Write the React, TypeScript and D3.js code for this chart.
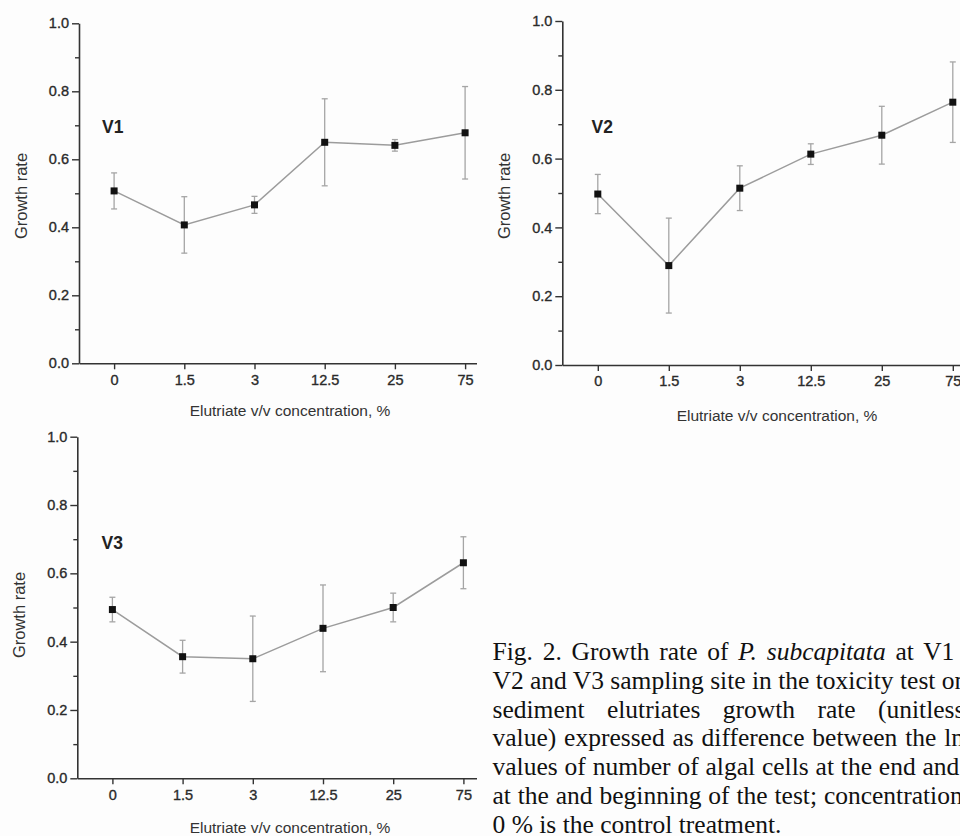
import React, { useEffect, useRef } from 'react';
import * as d3 from 'd3';

// categories (elutriate concentration, %)
const concentrations = ['0', '1.5', '3', '12.5', '25', '75'];
const yTicks = [0, 0.2, 0.4, 0.6, 0.8, 1.0];
const yMinorTicks = [0.1, 0.3, 0.5, 0.7, 0.9];

// growth rate means and error (half length of bar)
const v1Rate = [0.507, 0.407, 0.466, 0.65, 0.641, 0.678];
const v1Err = [0.053, 0.083, 0.025, 0.128, 0.017, 0.136];
const v2Rate = [0.497, 0.289, 0.514, 0.613, 0.668, 0.764];
const v2Err = [0.057, 0.138, 0.065, 0.03, 0.084, 0.117];
const v3Rate = [0.494, 0.356, 0.35, 0.439, 0.5, 0.631];
const v3Err = [0.036, 0.048, 0.125, 0.127, 0.042, 0.076];

const yTitle = 'Growth rate';
const xTitle = 'Elutriate v/v concentration, %';

const captionLines = [
  ['Fig. 2. Growth rate of ', 'P. subcapitata', ' at V1'],
  ['V2 and V3 sampling site in the toxicity test on'],
  ['sediment elutriates growth rate (unitless'],
  ['value) expressed as difference between the ln'],
  ['values of number of algal cells at the end and'],
  ['at the and beginning of the test; concentration'],
  ['0 % is the control treatment.'],
];
const captionWordSpacing = [3.4, 0, 16, 1.5, 0.5, 0.5, 0];

// panel placement on the page
const panels = [
  { name: 'V1', rate: v1Rate, err: v1Err, axisX: 79, top: 23.3, bottom: 363.3, step: 70.2, clipRight: 477,
    nameX: 102, nameY: 133, yTitleX: 27, yTitleY: 196, xTitleX: 290, xTitleY: 416 },
  { name: 'V2', rate: v2Rate, err: v2Err, axisX: 562.3, top: 21, bottom: 365, step: 71, clipRight: 960,
    nameX: 591.5, nameY: 133, yTitleX: 510, yTitleY: 196, xTitleX: 777, xTitleY: 421 },
  { name: 'V3', rate: v3Rate, err: v3Err, axisX: 77.3, top: 436.7, bottom: 778.3, step: 70.2, clipRight: 477,
    nameX: 101.5, nameY: 549, yTitleX: 25, yTitleY: 615, xTitleX: 290, xTitleY: 833 },
];

const SANS = '"Liberation Sans", Arial, sans-serif';
const SERIF = '"Liberation Serif", "Times New Roman", serif';

function drawPanel(svg: any, p: any, idx: number) {
  svg.append('clipPath').attr('id', 'clip' + idx)
    .append('rect').attr('x', 0).attr('y', 0).attr('width', p.clipRight).attr('height', 836);

  const g = svg.append('g').attr('clip-path', `url(#clip${idx})`);

  const x = d3.scalePoint<string>()
    .domain(concentrations)
    .range([p.axisX, p.axisX + p.step * concentrations.length])
    .padding(0.5);
  const y = d3.scaleLinear().domain([0, 1]).range([p.bottom, p.top]);

  // y axis, major + minor ticks
  const yAx = g.append('g').attr('transform', `translate(${p.axisX},0)`)
    .call(d3.axisLeft(y).tickValues(yTicks).tickFormat(d3.format('.1f')).tickSize(7).tickSizeOuter(0).tickPadding(3));
  g.append('g').attr('transform', `translate(${p.axisX},0)`)
    .call(d3.axisLeft(y).tickValues(yMinorTicks).tickFormat(() => '').tickSize(4).tickSizeOuter(0))
    .select('.domain').remove();

  // x axis
  const xAx = g.append('g').attr('transform', `translate(0,${p.bottom})`)
    .call(d3.axisBottom(x).tickSize(6).tickSizeOuter(0).tickPadding(5));

  g.selectAll('.domain').attr('stroke', '#333').attr('stroke-width', 1.6);
  g.selectAll('.tick line').attr('stroke', '#333').attr('stroke-width', 1.4);
  [yAx, xAx].forEach((a: any) => {
    a.attr('font-size', null).attr('font-family', null);
    a.selectAll('text').style('font-family', SANS).style('font-size', '14.5px')
      .attr('fill', '#2a2a2a').attr('stroke', '#2a2a2a').attr('stroke-width', 0.35);
  });

  const idxs = d3.range(concentrations.length);

  // error bars
  const eb = g.append('g').attr('stroke', '#a5a5a5').attr('stroke-width', 1.3).attr('fill', 'none');
  idxs.forEach((i: number) => {
    const cx = x(concentrations[i]) as number;
    const y1 = y(p.rate[i] + p.err[i]);
    const y2 = y(p.rate[i] - p.err[i]);
    eb.append('line').attr('x1', cx).attr('x2', cx).attr('y1', y1).attr('y2', y2);
    eb.append('line').attr('x1', cx - 3).attr('x2', cx + 3).attr('y1', y1).attr('y2', y1);
    eb.append('line').attr('x1', cx - 3).attr('x2', cx + 3).attr('y1', y2).attr('y2', y2);
  });

  // connecting line
  const line = d3.line<number>()
    .x((i: number) => x(concentrations[i]) as number)
    .y((i: number) => y(p.rate[i]));
  g.append('path').datum(idxs).attr('d', line)
    .attr('fill', 'none').attr('stroke', '#9c9c9c').attr('stroke-width', 1.5);

  // square markers
  g.selectAll('rect.mk').data(idxs).enter().append('rect').attr('class', 'mk')
    .attr('x', (i: number) => (x(concentrations[i]) as number) - 3.5)
    .attr('y', (i: number) => y(p.rate[i]) - 3.5)
    .attr('width', 7).attr('height', 7).attr('fill', '#111');

  // texts
  g.append('text').attr('x', p.nameX).attr('y', p.nameY)
    .style('font-family', SANS).attr('font-weight', 'bold').style('font-size', '17.5px').attr('fill', '#222')
    .text(p.name);
  g.append('text').attr('transform', `translate(${p.yTitleX},${p.yTitleY}) rotate(-90)`)
    .attr('text-anchor', 'middle').style('font-family', SANS).style('font-size', '16.5px').attr('fill', '#333')
    .text(yTitle);
  g.append('text').attr('x', p.xTitleX).attr('y', p.xTitleY)
    .attr('text-anchor', 'middle').style('font-family', SANS).style('font-size', '15.5px').attr('fill', '#333')
    .text(xTitle);
}

export default function App() {
  const ref = useRef<SVGSVGElement>(null);

  useEffect(() => {
    const svg = d3.select(ref.current);
    svg.selectAll('*').remove();
    svg.append('rect').attr('width', 960).attr('height', 836).attr('fill', '#fdfdfd');

    panels.forEach((p, i) => drawPanel(svg, p, i));

    // caption
    const cap = svg.append('g').style('font-family', SERIF).style('font-size', '25.5px').attr('fill', '#111');
    captionLines.forEach((parts, i) => {
      const t = cap.append('text').attr('x', 492.5).attr('y', 660 + i * 28.8)
        .style('word-spacing', captionWordSpacing[i] + 'px')
        .attr('xml:space', 'preserve');
      parts.forEach((s, j) => {
        t.append('tspan').attr('font-style', i === 0 && j === 1 ? 'italic' : 'normal').text(s);
      });
    });
  }, []);

  return (
    <svg ref={ref} width={960} height={836}
      style={{ position: 'absolute', left: 0, top: 0, display: 'block' }} />
  );
}
